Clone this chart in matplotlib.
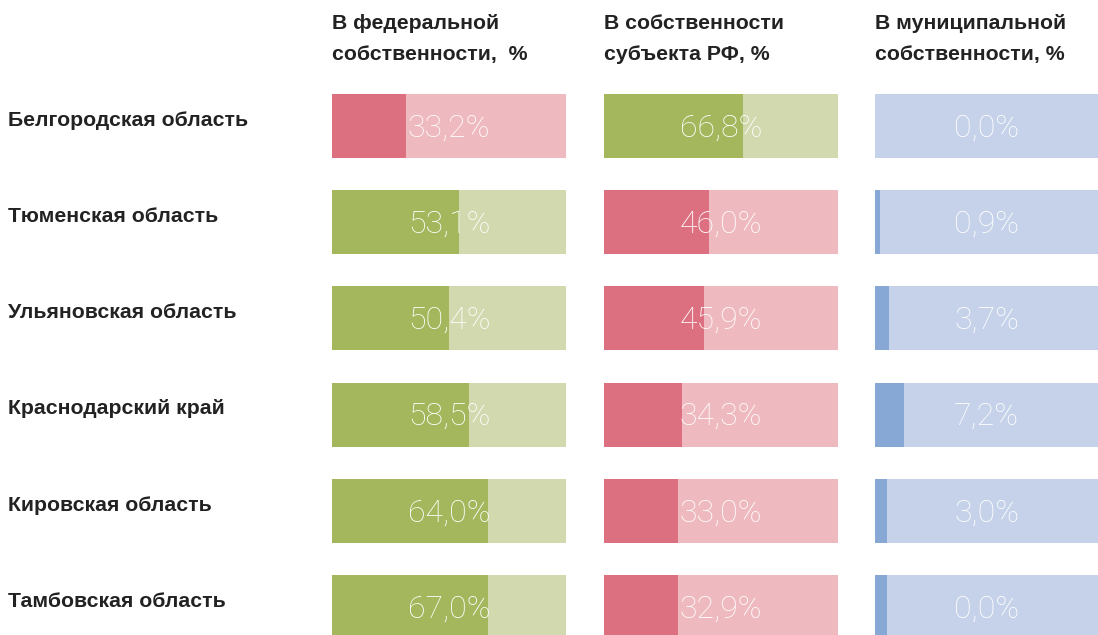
import numpy as np
import matplotlib
matplotlib.use("Agg")
import matplotlib.pyplot as plt
from matplotlib import transforms
from matplotlib import font_manager

regions = ["Белгородская область", "Тюменская область", "Ульяновская область",
           "Краснодарский край", "Кировская область", "Тамбовская область"]
headers = ["В федеральной\nсобственности,  %",
           "В собственности\nсубъекта РФ, %",
           "В муниципальной\nсобственности, %"]

# printed values
fed_lbl = ["33,2%", "53,1%", "50,4%", "58,5%", "64,0%", "67,0%"]
sub_lbl = ["66,8%", "46,0%", "45,9%", "34,3%", "33,0%", "32,9%"]
mun_lbl = ["0,0%", "0,9%", "3,7%", "7,2%", "3,0%", "0,0%"]

# bar fill as drawn in the picture (share of bar length, %)
fed_fill = [31.6, 54.3, 50.0, 58.5, 66.7, 66.7]
sub_fill = [59.4, 44.9, 42.7, 33.3, 31.6, 31.6]
mun_fill = [0.0, 2.2, 6.3, 13.0, 5.4, 5.4]

RED = ("#dc7080", "#eebac0")
GREEN = ("#a4b75c", "#d2d9ae")
BLUE = ("#87a8d4", "#c6d2e9")

# colour scheme per cell: column 1 & 2 swap red/green by row
fed_col = [RED, GREEN, GREEN, GREEN, GREEN, GREEN]
sub_col = [GREEN, RED, RED, RED, RED, RED]
mun_col = [BLUE] * 6

avail = {f.name for f in font_manager.fontManager.ttflist}
bold_font = [f for f in ["Liberation Sans", "DejaVu Sans"] if f in avail]
thin_font = [f for f in ["Roboto", "Lato", "DejaVu Sans"] if f in avail]

W, H = 1098, 635
fig = plt.figure(figsize=(W / 100, H / 100), dpi=100)

cols = [(332, 234, fed_fill, fed_lbl, fed_col),
        (604, 234, sub_fill, sub_lbl, sub_col),
        (875, 223, mun_fill, mun_lbl, mun_col)]

row_step = 96.2
first_c = 126
y = np.arange(len(regions))
ylo = -first_c / row_step
yhi = (H - first_c) / row_step
bar_h = 64 / row_step

axes = []
for left, width, fill, lbl, colr in cols:
    ax = fig.add_axes([left / W, 0, width / W, 1])
    ax.set_xlim(0, 100)
    ax.set_ylim(yhi, ylo)
    ax.axis("off")
    ax.barh(y, 100, height=bar_h, color=[c[1] for c in colr], linewidth=0)
    ax.barh(y, fill, height=bar_h, color=[c[0] for c in colr], linewidth=0)
    for yi, t in zip(y, lbl):
        ax.text(50, yi + 0.02, t, ha="center", va="center", color="white",
                fontsize=23, family=thin_font, fontweight="light")
    axes.append(ax)

for (left, *_), h in zip(cols, headers):
    fig.text(left / W, 1 - 14 / H, h, ha="left", va="top", fontsize=15.3,
             fontweight="bold", family=bold_font, color="#222222", linespacing=1.8)

tr = transforms.blended_transform_factory(fig.transFigure, axes[0].transData)
for yi, r in zip(y, regions):
    fig.text(8 / W, yi - 0.06, r, transform=tr, ha="left", va="center",
             fontsize=15.3, fontweight="bold", family=bold_font, color="#222222")

fig.savefig("out.png", dpi=100)
